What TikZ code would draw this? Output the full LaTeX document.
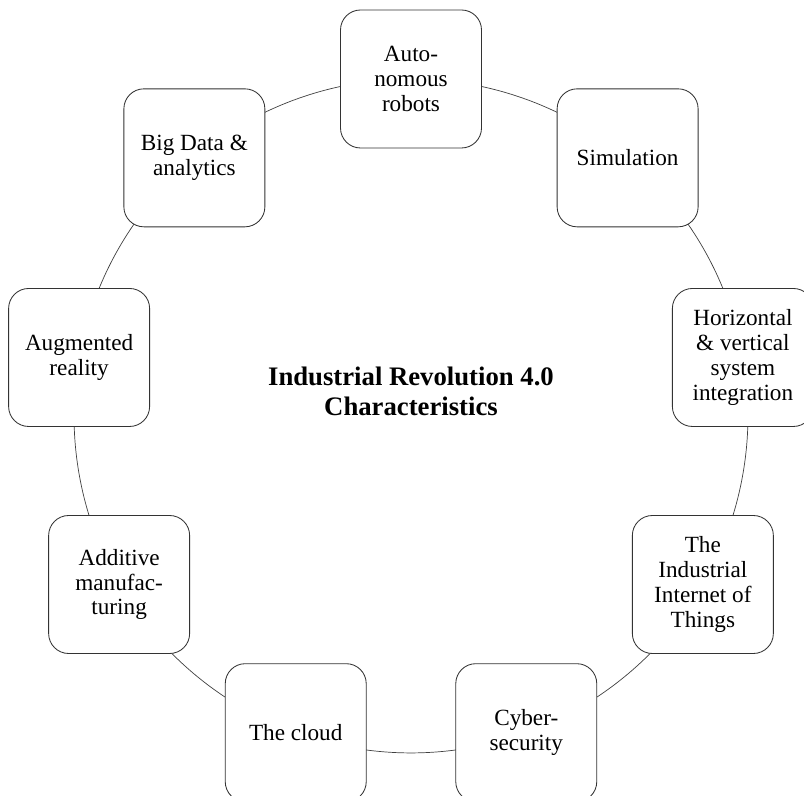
\documentclass[tikz,border=0pt]{standalone}
\usepackage{fontspec}
\setmainfont{Liberation Serif}
\usetikzlibrary{backgrounds}

\begin{document}
\begin{tikzpicture}[
      font=\fontsize{16.5}{17.6}\selectfont,
      item/.style={draw=black!80, line width=0.6pt, fill=white,
        rounded corners=0.5cm, minimum width=3.525cm,
        minimum height=3.45cm, align=center, inner sep=2pt},
      ring/.style={draw=black!75, line width=0.5pt, bend left=20,
        looseness=0.878}
    ]
    \clip (-10.275,-9.5) rectangle (9.825,10.4);

    \node[font=\fontsize{19}{21.3}\selectfont\bfseries, align=center]
      (hub) at (0,0.62) {Industrial Revolution 4.0\\Characteristics};

    \node[item] (robots) at (90:8.425) {Auto-\\nomous\\robots};
    \node[item] (sim) at (50:8.425) {Simulation};
    \node[item] (integ) at (10:8.425) {Horizontal\\\& vertical\\system\\integration};
    \node[item] (iiot) at (-30:8.425) {The\\Industrial\\Internet of\\Things};
    \node[item] (cyber) at (-70:8.425) {Cyber-\\security};
    \node[item] (cloud) at (-110:8.425) {The cloud};
    \node[item] (additive) at (-150:8.425) {Additive\\manufac-\\turing};
    \node[item] (ar) at (170:8.425) {Augmented\\reality};
    \node[item] (bigdata) at (130:8.425) {Big Data \&\\analytics};

    % ring behind the boxes
    \begin{scope}[on background layer]
      \draw[ring] (robots.center) to (sim.center);
      \draw[ring] (sim.center) to (integ.center);
      \draw[ring] (integ.center) to (iiot.center);
      \draw[ring] (iiot.center) to (cyber.center);
      \draw[ring] (cyber.center) to (cloud.center);
      \draw[ring] (cloud.center) to (additive.center);
      \draw[ring] (additive.center) to (ar.center);
      \draw[ring] (ar.center) to (bigdata.center);
      \draw[ring] (bigdata.center) to (robots.center);
    \end{scope}
  \end{tikzpicture}
\end{document}
